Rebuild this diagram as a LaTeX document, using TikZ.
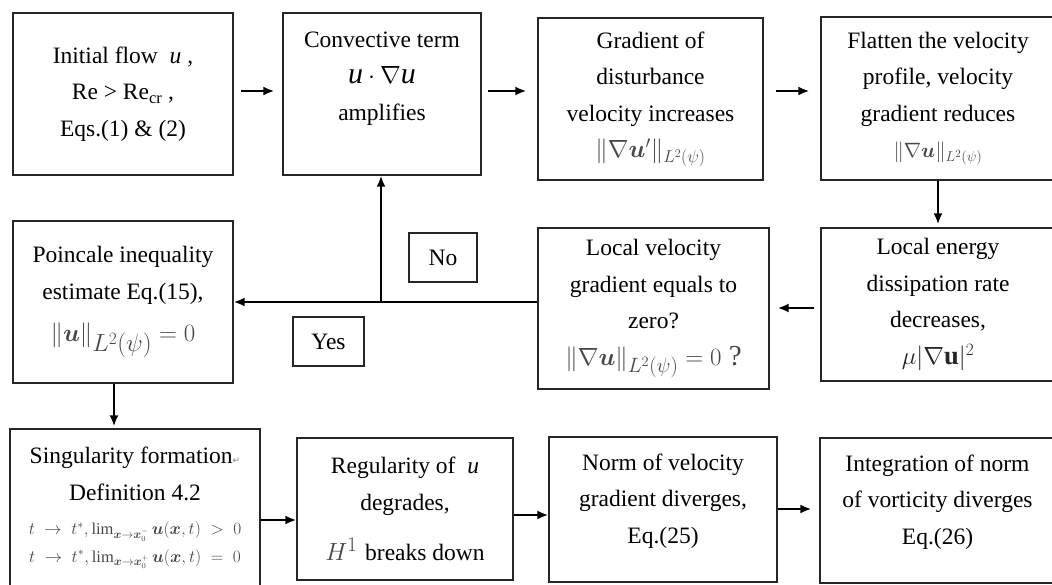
\documentclass[tikz,border=0pt]{standalone}
\usepackage{amsmath,bm}
\usepackage{fontspec}
\setmainfont{Liberation Serif}
\newfontfamily\symfont{DejaVu Sans}
\usetikzlibrary{arrows.meta}
\definecolor{eqgray}{gray}{0.28}
\definecolor{boxline}{gray}{0.15}
\newcommand{\eqsize}[1]{\fontsize{#1}{36}\selectfont\color{eqgray}}
\begin{document}
\begin{tikzpicture}[x=1pt,y=-1pt,
  box/.style={draw=boxline,line width=1.3pt,align=center,inner sep=0pt,
    font=\fontsize{23.5}{36.5}\selectfont},
  flow/.style={line width=2.8pt,-{Latex[length=11pt,width=9pt]}}]
\path[use as bounding box,clip] (0,0) rectangle (1052,585);
% top row
\node[box,minimum width=220,minimum height=162] (b1) at (123,94) {Initial flow\ \ \textit{u} ,\\ Re > Re\textsubscript{cr} ,\\ Eqs.(1) \& (2)};
\node[box,minimum width=198,minimum height=162] (b2) at (382,94) {Convective term\\ \fontsize{30}{36}\selectfont\textit{u}\,$\cdot$\,$\nabla$\textit{u}\\ amplifies\\ \mbox{}};
\node[box,minimum width=225,minimum height=162] (b3) at (650.5,99) {Gradient of\\ disturbance\\ velocity increases\\ \eqsize{24.5}$\|\nabla\bm{u}'\|_{L^2(\psi)}$};
\node[box,minimum width=234,minimum height=163] (b4) at (938,98.5) {Flatten the velocity\\ profile, velocity\\ gradient reduces\\ \eqsize{21}$\|\nabla\bm{u}\|_{L^2(\psi)}$};
% middle row
\node[box,minimum width=220,minimum height=162] (b5) at (123,302) {Poincale inequality\\ estimate Eq.(15),\\[6pt] \eqsize{33}$\|\bm{u}\|_{L^2(\psi)}=0$};
\node[box,minimum width=231,minimum height=161] (b6) at (653.5,308.5) {Local velocity\\ gradient equals to\\ zero?\\ \eqsize{29}$\|\nabla\bm{u}\|_{L^2(\psi)}=0$\ ?};
\node[box,minimum width=234,minimum height=153] (b7) at (938,304.5) {Local energy\\ dissipation rate\\ decreases,\\ \fontsize{26.5}{36}\selectfont\color{black!85}$\mu|\nabla\mathbf{u}|^2$};
\node[box,minimum width=68,minimum height=49] (l1) at (443,257.5) {No};
\node[box,minimum width=71,minimum height=49] (l2) at (328.5,341.5) {Yes};
% bottom row
\node[box,minimum width=250,minimum height=171,text depth=20pt] (b8) at (135,514.5) {Singularity formation{\symfont\fontsize{9}{9}\selectfont\color{gray}↵}\\ Definition 4.2\\[-2pt] \eqsize{16.5}$t\;\to\;t^*, \lim_{\bm{x}\to\bm{x}_0^-}\bm{u}(\bm{x},t)\;>\;0$\\[-9pt] \eqsize{16.5}$t\;\to\;t^*, \lim_{\bm{x}\to\bm{x}_0^+}\bm{u}(\bm{x},t)\;=\;0$};
\node[box,minimum width=216,minimum height=142] (b9) at (405,509) {Regularity of\ \ \textit{u}\\ degrades,\\[14pt] \eqsize{31}$H^1$\ \color{black}\fontsize{23.5}{36}\selectfont breaks down};
\node[box,minimum width=228,minimum height=145] (b10) at (663,509.5) {Norm of velocity\\ gradient diverges,\\ Eq.(25)\\[-14pt] \mbox{}};
\node[box,minimum width=235,minimum height=145] (b11) at (937.5,510.5) {Integration of norm\\ of vorticity diverges\\ Eq.(26)\\[-14pt] \mbox{}};
% connector levels
\coordinate (r1) at (0,91);
\coordinate (r2) at (0,308);
\coordinate (sp) at (381,302);
\coordinate (c5) at (114,0);
\coordinate (r3) at (0,520);
\coordinate (r4) at (0,515);
\coordinate (r5) at (0,509);
\draw[flow,shorten <=7pt,shorten >=8pt] (b1.east |- r1) -- (b2.west |- r1);
\draw[flow,shorten <=6pt,shorten >=11pt] (b2.east |- r1) -- (b3.west |- r1);
\draw[flow,shorten <=12pt,shorten >=11pt] (b3.east |- r1) -- (b4.west |- r1);
\draw[flow,shorten >=3pt] (b4.south) -- (b7.north);
\draw[flow,shorten <=6pt,shorten >=8pt] (b7.west |- r2) -- (b6.east |- r2);
\draw[flow] (b6.west |- sp) -- (b5.east |- sp);
\draw[flow] (sp) -- (b2.south -| sp);
\draw[flow,shorten >=2pt] (b5.south -| c5) -- (b8.north -| c5);
\draw[flow] (b8.east |- r3) -- (b9.west |- r3);
\draw[flow] (b9.east |- r4) -- (b10.west |- r4);
\draw[flow,shorten >=8pt] (b10.east |- r5) -- (b11.west |- r5);
\end{tikzpicture}
\end{document}
